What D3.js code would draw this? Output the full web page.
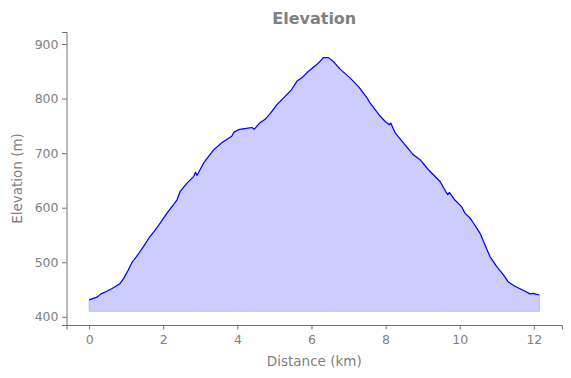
<!DOCTYPE html>
<html>
<head>
<meta charset="utf-8">
<script src="https://cdn.jsdelivr.net/npm/d3@7/dist/d3.min.js"></script>
<style>
  html, body { margin: 0; padding: 0; background: #fff; }
  svg { display: block; font-family: "DejaVu Sans", sans-serif; }
</style>
</head>
<body>
<svg id="chart" width="571" height="378"></svg>
<script>
// Distance along the route (km)
const distanceKm = [0, 0.21, 0.32, 0.45, 0.62, 0.82, 0.93, 1.05, 1.16, 1.34, 1.48, 1.61, 1.75, 1.88, 2.10, 2.19, 2.37, 2.46, 2.64, 2.82, 2.87, 2.91, 3.09, 3.36, 3.58, 3.85, 3.90, 4.03, 4.20, 4.39, 4.46, 4.60, 4.75, 4.89, 5.07, 5.29, 5.47, 5.61, 5.74, 5.92, 6.10, 6.23, 6.32, 6.46, 6.59, 6.77, 7.04, 7.27, 7.49, 7.58, 7.85, 7.99, 8.10, 8.14, 8.26, 8.48, 8.75, 8.93, 9.15, 9.47, 9.62, 9.68, 9.72, 9.87, 10.05, 10.14, 10.28, 10.37, 10.55, 10.68, 10.82, 11.00, 11.18, 11.31, 11.49, 11.67, 11.90, 11.98, 12.15];
// Elevation (m)
const elevationM = [431, 436, 442, 446, 452, 460, 470, 485, 500, 516, 530, 544, 556, 568, 590, 598, 614, 630, 645, 657, 665, 659, 682, 706, 719, 731, 738, 743, 745, 747, 744, 755, 762, 773, 789, 804, 817, 832, 838, 850, 860, 868, 875, 875, 868, 854, 838, 822, 802, 792, 768, 758, 752, 755, 737, 719, 697, 688, 670, 648, 630, 624, 628, 614, 602, 590, 581, 572, 553, 532, 510, 492, 477, 464, 456, 450, 442, 443, 440];
const fillBase = 410;
const xTicks = [0, 2, 4, 6, 8, 10, 12];
const yTicks = [400, 500, 600, 700, 800, 900];
const xDomain = [-0.61, 12.76];
const yDomain = [385, 922];

const svg = d3.select("#chart");
const mLeft = 66.5, mRight = 562, mTop = 32, mBottom = 325;
const x = d3.scaleLinear().domain(xDomain).range([mLeft, mRight]);
const y = d3.scaleLinear().domain(yDomain).range([mBottom, mTop]);

const data = distanceKm.map((d, i) => ({ d, e: elevationM[i] }));

const textColor = "#808080";
const spineColor = "#707070";

// fill
svg.append("path")
  .datum(data)
  .attr("d", d3.area().x(p => x(p.d)).y0(y(fillBase)).y1(p => y(p.e)))
  .attr("fill", "rgba(0,0,255,0.2)")
  .attr("stroke", "rgba(0,0,255,0.2)")
  .attr("stroke-width", 1);

// line
svg.append("path")
  .datum(data)
  .attr("d", d3.line().x(p => x(p.d)).y(p => y(p.e)))
  .attr("fill", "none")
  .attr("stroke", "#0000ff")
  .attr("stroke-width", 1.2)
  .attr("stroke-linejoin", "round");

// axes
const xAxis = svg.append("g")
  .attr("transform", `translate(0,${mBottom})`)
  .call(d3.axisBottom(x).tickValues(xTicks).tickFormat(d3.format("d")).tickSizeOuter(0).tickSize(4.5).tickPadding(6));
const yAxis = svg.append("g")
  .attr("transform", `translate(${mLeft},0)`)
  .call(d3.axisLeft(y).tickValues(yTicks).tickFormat(d3.format("d")).tickSizeOuter(0).tickSize(4.5).tickPadding(3.5));

[xAxis, yAxis].forEach(g => {
  g.select(".domain").attr("stroke", spineColor).attr("stroke-width", 1);
  g.selectAll(".tick line").attr("stroke", spineColor).attr("stroke-width", 1);
  g.selectAll(".tick text").attr("fill", textColor).attr("font-size", 12.5).attr("font-family", "DejaVu Sans, sans-serif");
});

// labels
svg.append("text")
  .attr("x", (mLeft + mRight) / 2).attr("y", 24)
  .attr("text-anchor", "middle")
  .attr("font-size", 16).attr("font-weight", "bold")
  .attr("fill", textColor)
  .text("Elevation");

svg.append("text")
  .attr("x", (mLeft + mRight) / 2).attr("y", 366)
  .attr("text-anchor", "middle")
  .attr("font-size", 13.5)
  .attr("fill", textColor)
  .text("Distance (km)");

svg.append("text")
  .attr("transform", `translate(22,${(mTop + mBottom) / 2}) rotate(-90)`)
  .attr("text-anchor", "middle")
  .attr("font-size", 13.5)
  .attr("fill", textColor)
  .text("Elevation (m)");
</script>
</body>
</html>
